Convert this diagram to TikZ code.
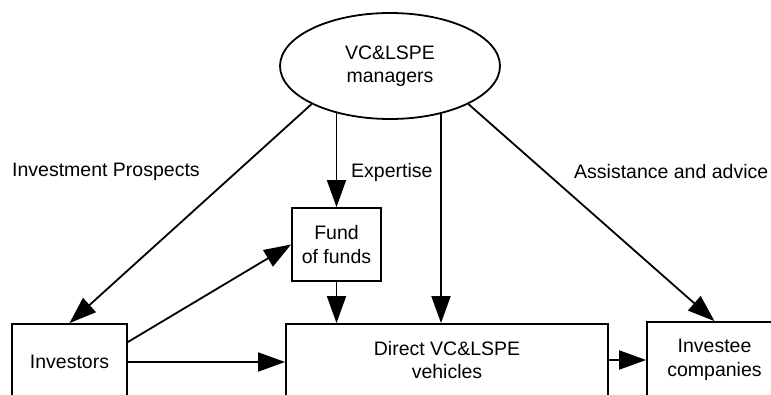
\documentclass[tikz,border=0pt]{standalone}
\usepackage{fontspec}
\setmainfont{Liberation Sans}
\usetikzlibrary{shapes.geometric,arrows.meta,backgrounds}
\begin{document}
\begin{tikzpicture}[x=1pt,y=-1pt,
  every node/.style={font=\fontsize{19.5}{23.5}\selectfont, align=center, inner sep=0pt},
  boxnode/.style={draw, line width=1.8pt, rectangle, fill=white},
  ellnode/.style={draw, line width=1.8pt, ellipse, fill=white, minimum width=220pt, minimum height=106pt},
  conn/.style={line width=1.8pt, -{Triangle[length=27pt,width=19pt]}},
  lbl/.style={anchor=west}]
\useasboundingbox (0,0) rectangle (771,394);
\clip (0,0) rectangle (771,394);
\node[ellnode] (ell) at (390,66) {VC\&LSPE\\managers};
\node[boxnode, minimum width=115pt, minimum height=76pt] (inv) at (69.5,362) {Investors};
\node[boxnode, minimum width=89pt, minimum height=73pt] (fof) at (336.5,244.5) {Fund\\of funds};
\node[boxnode, minimum width=322pt, minimum height=72pt] (dir) at (447,360) {Direct VC\&LSPE\\vehicles};
\node[boxnode, minimum width=135pt, minimum height=76pt] (ice) at (714.5,360) {Investee\\companies};
\node[lbl] (l1) at (12,172) {Investment Prospects};
\node[lbl] (l2) at (351,172) {Expertise};
\node[lbl] (l3) at (574,172) {Assistance and advice};
\begin{pgfonlayer}{background}
\draw[conn] (ell.south west) -- (inv.north);
\draw[conn] (ell.south east) -- (ice.north);
\draw[conn] (fof.north |- ell.center) -- (fof.north);
\draw[conn] ([xshift=-6pt]dir.north |- ell.center) -- ([xshift=-6pt]dir.north);
\end{pgfonlayer}
\draw[conn] ([yshift=20pt]inv.east) -- (fof.west);
\draw[conn] (inv.east) -- (inv.east -| dir.west);
\draw[conn] (fof.south) -- (fof.south |- dir.north);
\draw[conn] (dir.east) -- (dir.east -| ice.west);
\end{tikzpicture}
\end{document}
